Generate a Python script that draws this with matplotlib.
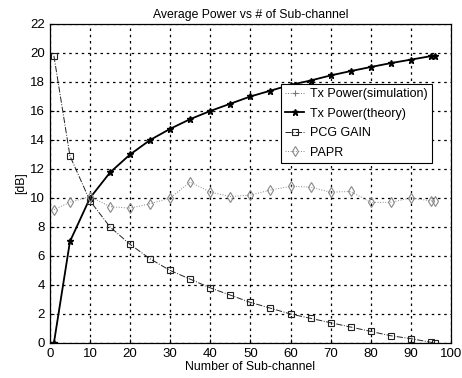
import matplotlib
matplotlib.use('Agg')
import matplotlib.pyplot as plt

# sub-channel counts
n_sub = [1, 5, 10, 15, 20, 25, 30, 35, 40, 45, 50, 55, 60, 65, 70, 75, 80, 85, 90, 95, 96]

# values [dB]
tx_sim = [0.0, 7.0, 10.0, 11.76, 13.0, 14.0, 14.77, 15.44, 16.0, 16.5, 17.0,
          17.4, 17.8, 18.1, 18.45, 18.75, 19.03, 19.3, 19.54, 19.78, 19.82]
tx_theory = [0.0, 7.0, 10.0, 11.76, 13.0, 14.0, 14.77, 15.44, 16.0, 16.5, 17.0,
             17.4, 17.8, 18.1, 18.45, 18.75, 19.03, 19.3, 19.54, 19.78, 19.82]
pcg_gain = [19.8, 12.9, 9.8, 8.0, 6.8, 5.8, 5.0, 4.4, 3.8, 3.3, 2.8,
            2.4, 2.0, 1.7, 1.4, 1.1, 0.8, 0.5, 0.3, 0.05, 0.0]
papr = [9.2, 9.7, 10.1, 9.4, 9.3, 9.6, 10.0, 11.1, 10.4, 10.1, 10.2,
        10.55, 10.8, 10.75, 10.4, 10.45, 9.7, 9.7, 10.0, 9.8, 9.8]

plt.rcParams['font.family'] = ['Liberation Sans', 'DejaVu Sans']

fig = plt.figure(figsize=(4.62, 3.78), dpi=100)
ax = fig.add_axes([0.108, 0.0926, 0.868, 0.844])

ax.plot(n_sub, tx_sim, color='#777777', lw=0.7, ls=':', marker='+', ms=5,
        mew=0.8, label='Tx Power(simulation)')
ax.plot(n_sub, tx_theory, color='black', lw=1.3, marker='*', ms=5,
        label='Tx Power(theory)')
ax.plot(n_sub, pcg_gain, color='#222222', lw=0.7, ls='-.', marker='s', ms=5,
        mfc='none', mew=0.8, label='PCG GAIN')
ax.plot(n_sub, papr, color='#888888', lw=0.7, ls=':', marker='d', ms=5,
        mfc='none', mew=0.8, label='PAPR')

ax.set_xlim(0, 100)
ax.set_ylim(0, 22)
ax.set_xticks(range(0, 101, 10))
ax.set_yticks(range(0, 23, 2))
ax.tick_params(direction='in', labelsize=9.5, length=3)
ax.grid(True, color='black', ls=(0, (2, 3)), lw=0.9)
for s in ax.spines.values():
    s.set_linewidth(0.9)

ax.set_title('Average Power vs # of Sub-channel', fontsize=8.8, pad=4)
ax.set_xlabel('Number of Sub-channel', fontsize=8.8, labelpad=1)
ax.set_ylabel('[dB]', fontsize=8.8, labelpad=2)

leg = ax.legend(loc='upper left', bbox_to_anchor=(0.576, 0.812), fontsize=9,
                frameon=True, fancybox=False, edgecolor='black', framealpha=1,
                borderpad=0.35, labelspacing=0.6, handlelength=1.5,
                handletextpad=0.5, borderaxespad=0)
leg.get_frame().set_linewidth(0.8)

fig.savefig('out.png', dpi=100)
